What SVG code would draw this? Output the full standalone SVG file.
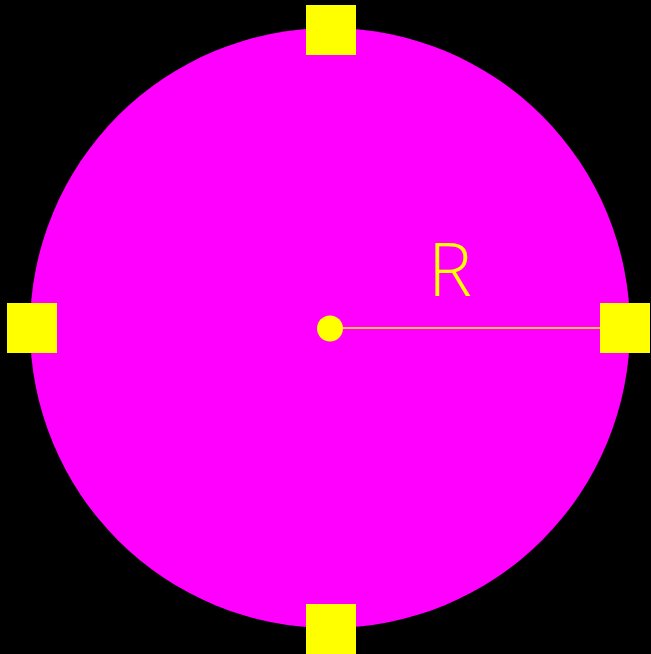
<svg xmlns="http://www.w3.org/2000/svg" width="651" height="654" viewBox="0 0 651 654">
<style>
.sq{fill:#ffff00}
.lbl{font-family:"Open Sans","Liberation Sans",sans-serif;font-weight:300;font-size:74px;fill:#ffff00}
</style>
<rect x="0" y="0" width="651" height="654" fill="#000"/>
<g id="circle"><circle cx="330" cy="328" r="300" fill="#ff00ff"/></g>
<g id="connectors"><line x1="330" y1="328" x2="600" y2="328" stroke="#ffff00" stroke-width="1.4"/></g>
<g id="center"><circle cx="330" cy="328.5" r="13" fill="#ffff00"/></g>
<g id="top"><rect class="sq" x="306" y="5" width="50" height="50"/></g>
<g id="left"><rect class="sq" x="7" y="303" width="50" height="50"/></g>
<g id="right"><rect class="sq" x="600" y="303" width="50" height="50"/></g>
<g id="bottom"><rect class="sq" x="306" y="604" width="50" height="50"/></g>
<g id="label"><text class="lbl" x="450" y="296" text-anchor="middle">R</text></g>
</svg>
